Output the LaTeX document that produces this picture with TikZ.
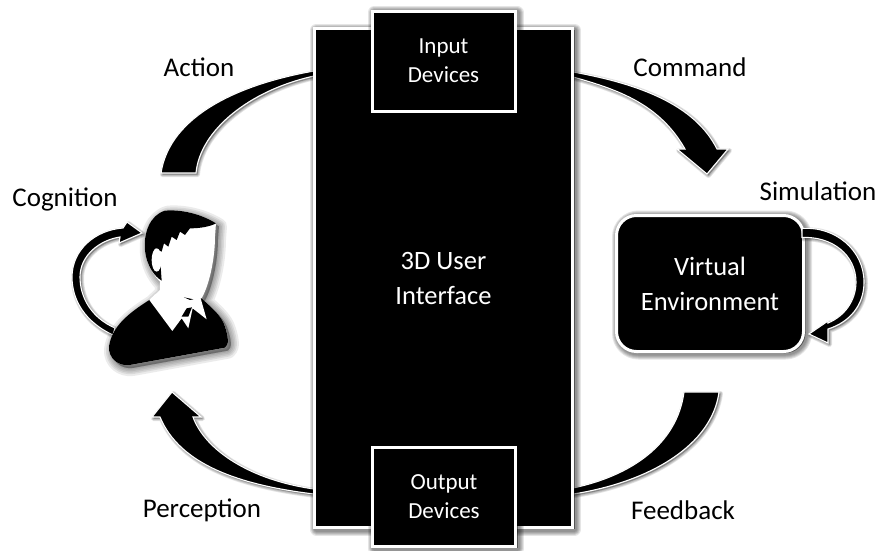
\documentclass[tikz,border=0pt]{standalone}
\usepackage{fontspec}
\setmainfont{Carlito}
\usetikzlibrary{calc,backgrounds}
\tikzset{
  shadowlayer/.style={preaction={draw=black,fill=black,opacity=0.10,line width=#1,line join=round,transform canvas={shift={(2pt,-1.5pt)}}}},
  softshadow/.style={shadowlayer=13pt,shadowlayer=11pt,shadowlayer=9pt,shadowlayer=7pt,shadowlayer=5pt},
  thinlayer/.style={preaction={draw=black,fill=black,opacity=0.10,line width=#1,line join=round,transform canvas={shift={(1.5pt,-1.5pt)}}}},
  ribbon/.style={thinlayer=5pt,thinlayer=3.5pt,thinlayer=2pt,fill=black,draw=white,line width=1.1pt,line join=miter},
  blacklayer/.style={preaction={draw=black,fill=black,opacity=0.08,line width=#1,line join=round,transform canvas={shift={(3pt,-3pt)}}}},
  personshadow/.style={blacklayer=16pt,blacklayer=12pt,blacklayer=9pt,blacklayer=6pt,blacklayer=3pt},
  blackbox/.style={softshadow,rectangle,fill=black,draw=white,line width=3pt,text=white,align=center,inner sep=0pt},
  bigtext/.style={font=\fontsize{26.5}{35}\selectfont},
  smalltext/.style={font=\fontsize{23}{29}\selectfont},
  steplabel/.style={font=\fontsize{27}{30}\selectfont,text=black,inner sep=0pt},
}
\begin{document}
\begin{tikzpicture}[x=1pt,y=-1pt]
\useasboundingbox (0,0) rectangle (882,550);
% boxes
\node[blackbox,bigtext,minimum width=258pt,minimum height=499pt](ui) at (443.5,278){3D User\\Interface};
\node[blackbox,smalltext,minimum width=143pt,minimum height=100pt](input) at (443.5,61){Input\\Devices};
\node[blackbox,smalltext,minimum width=143pt,minimum height=99pt](output) at (444,497){Output\\Devices};
\node[blackbox,bigtext,rounded corners=20pt,minimum width=187pt,minimum height=136pt](ve) at (710,283.5){Virtual\\Environment};
% labels
\node[steplabel](action) at (199,67){Action};
\node[steplabel](command) at (690,67){Command};
\node[steplabel](simulation) at (818,191){Simulation};
\node[steplabel](cognition) at (65,199){Cognition};
\node[steplabel](perception) at (202,510){Perception};
\node[steplabel](feedback) at (683,510){Feedback};
% big arrows behind the boxes
\begin{pgfonlayer}{background}
\fill[white](0,0) rectangle (882,550);
\draw[ribbon](161,173) .. controls (170,115) and (240,84) .. ($(ui.north west)+(1,44)$)--($(ui.north west)+(1,49)$) .. controls (250,90) and (200,130) .. (196,173)--cycle;
\draw[ribbon]($(ui.north east)+(-1,45)$) .. controls (640,84) and (695,105) .. (717,149)--(728,149)--(707,174)--(677,149)--(685,149) .. controls (660,105) and (620,90) .. ($(ui.north east)+(-1,50)$)--cycle;
\draw[ribbon]($(ui.south west)+(1,-40)$) .. controls (250,480) and (205,450) .. (193,417)--(201,417)--(172,392)--(152,417)--(160,417) .. controls (180,465) and (240,485) .. ($(ui.south west)+(1,-35)$)--cycle;
\draw[ribbon]($(ui.south east)+(-1,-41)$) .. controls (630,476) and (677,445) .. (684,392)--(719,392) .. controls (712,445) and (650,482) .. ($(ui.south east)+(-1,-35)$)--cycle;
\end{pgfonlayer}
% simulation loop
\draw[ribbon]($(ve.east)+(-3,-55)$) .. controls (835,226) and (864,250) .. (864,282) .. controls (864,305) and (850,322) .. (828,329)--(828,343)--(809,334)--(828,321)--(828,323) .. controls (845,316) and (856,300) .. (856,282) .. controls (856,255) and (832,236) .. ($(ve.east)+(-3,-46)$)--cycle;
% cognition loop
\draw[ribbon](113,335) .. controls (85,322) and (72,300) .. (72,277) .. controls (72,250) and (95,230) .. (123,228)--(127,222)--(142,233)--(119,243)--(120,237) .. controls (100,240) and (80,255) .. (80,277) .. controls (80,298) and (92,318) .. (115,328)--cycle;
% person
\begin{scope}[shift={(40,50)},x=0.3333pt,y=-0.3333pt]
\fill[white,personshadow](528,520) .. controls (480,490) and (420,478) .. (375,482) .. controls (330,495) and (310,550) .. (315,600) .. controls (320,650) and (345,680) .. (360,695)--(360,720)--(328,750) .. controls (265,790) and (215,830) .. (207,890) .. controls (205,925) and (235,950) .. (270,945)--(555,893) .. controls (568,885) and (565,860) .. (555,830) .. controls (545,795) and (510,770) .. (485,745) .. controls (510,700) and (525,620) .. (525,560)--cycle;
\fill[black](207,890) .. controls (215,830) and (265,790) .. (328,750)--(485,745) .. controls (510,770) and (545,795) .. (555,830) .. controls (565,860) and (568,885) .. (555,893)--(270,945) .. controls (235,950) and (205,925) .. (207,890)--cycle;
\fill[white](345,733)--(328,750)--(397,843)--(425,805)--(445,835)--(458,775)--(500,808)--(482,745)--(470,735)--cycle;
\fill[black](432,742)--(460,748)--(450,750)--cycle (425,800)--(440,775)--(456,772)--(445,800)--cycle;
\fill[black](528,520) .. controls (480,490) and (420,478) .. (375,482) .. controls (330,495) and (310,550) .. (315,600) .. controls (320,650) and (345,680) .. (365,692)--(362,650)--(345,595)--(365,605)--(372,580)--(385,590)--(395,560)--(410,570)--(420,545)--(435,555)--(450,535) .. controls (480,535) and (510,530) .. (528,520)--cycle;
\fill[white](350,630) ellipse (15 and 35);
\end{scope}
\end{tikzpicture}
\end{document}
